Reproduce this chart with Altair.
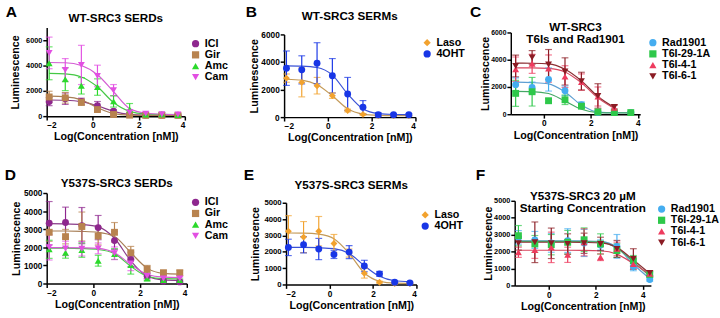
import altair as alt
import pandas as pd

FONT = "Liberation Sans"

# log10 concentrations (nM)
X9 = [-1.893, -1.194, -0.495, 0.204, 0.903, 1.602, 2.301, 3.0, 3.699]
X8 = [-1.194, -0.495, 0.204, 0.903, 1.602, 2.301, 3.0, 3.699]
X7 = [-1.194, -0.495, 0.204, 0.903, 1.602, 2.301, 3.0]
XF = [-1.291, -0.592, 0.107, 0.806, 1.505, 2.204, 2.903, 3.602, 4.301]

# ---- Panel A: WT-SRC3 SERDs
A_series = ["ICI", "Gir", "Amc", "Cam"]
A_ICI_y = [1150, 1380, 1170, 830, 390, 130, 80, 80, 80]
A_ICI_sd = [320, 450, 250, 330, 120, 60, 40, 40, 40]
A_ICI_fit = [1280, 1260, 1150, 820, 380, 140, 80, 70, 70]
A_Gir_y = [1520, 1450, 1100, 520, 130, 80, 60, 60, 60]
A_Gir_sd = [450, 420, 250, 150, 60, 40, 30, 30, 30]
A_Gir_fit = [1580, 1530, 1300, 680, 200, 80, 60, 60, 60]
A_Amc_y = [4180, 2920, 2400, 2300, 1170, 520, 130, 150, 100]
A_Amc_sd = [1300, 900, 650, 650, 450, 480, 100, 150, 80]
A_Amc_fit = [3380, 3340, 3100, 2320, 1080, 380, 170, 140, 130]
A_Cam_y = [5000, 3650, 4050, 3180, 2050, 300, 200, 150, 130]
A_Cam_sd = [1250, 900, 1550, 850, 450, 200, 150, 100, 80]
A_Cam_fit = [4240, 4220, 4000, 3270, 1930, 600, 230, 150, 130]

# ---- Panel B: WT-SRC3 SERMs
B_series = ["Laso", "4OHT"]
B_Laso_y = [2830, 2520, 2280, 1560, 480, 200, 110, 110, 110]
B_Laso_sd = [300, 1050, 600, 200, 100, 60, 40, 40, 40]
B_Laso_fit = [2750, 2680, 2350, 1550, 600, 220, 130, 110, 110]
B_OHT_y = [3550, 3430, 3910, 3000, 1680, 720, 170, 170, 170]
B_OHT_sd = [1250, 1020, 1490, 1250, 1200, 480, 150, 80, 80]
B_OHT_fit = [3720, 3700, 3600, 3050, 1680, 600, 250, 190, 180]

# ---- Panel C: WT-SRC3 T6Is and Rad1901
C_series = ["Rad1901", "T6I-29-1A", "T6I-4-1", "T6I-6-1"]
C_Rad_y = [2170, 1960, 2550, 1720, 700, 120, 120, 120]
C_Rad_sd = [500, 400, 850, 350, 200, 80, 60, 50]
C_Rad_fit = [2350, 2320, 2230, 1630, 670, 150, 110, 110]
C_29_y = [1530, 1650, 990, 1060, 590, 165, 120, 120]
C_29_sd = [950, 1050, 150, 350, 150, 80, 50, 50]
C_29_fit = [1680, 1660, 1520, 960, 360, 120, 100, 100]
C_4_y = [3300, 3700, 3350, 2760, 2360, 1300, 470]
C_4_sd = [900, 700, 1000, 800, 600, 700, 200]
C_4_fit = [3400, 3400, 3360, 3100, 2300, 1200, 420]
C_6_y = [3540, 4170, 3650, 3140, 2430, 1340, 540]
C_6_sd = [800, 500, 1100, 1000, 650, 900, 150]
C_6_fit = [3750, 3740, 3700, 3300, 2450, 1300, 500]

# ---- Panel D: Y537S-SRC3 SERDs
D_ICI_y = [3330, 3370, 3200, 3090, 2370, 1330, 410, 130, 90]
D_ICI_sd = [1200, 850, 1000, 670, 500, 400, 150, 60, 50]
D_ICI_fit = [3310, 3300, 3260, 3130, 2500, 1250, 400, 200, 170]
D_Gir_y = [2830, 2590, 3150, 2630, 2830, 1700, 800, 590, 590]
D_Gir_sd = [500, 400, 800, 500, 540, 350, 200, 150, 150]
D_Gir_fit = [2900, 2900, 2880, 2830, 2600, 1700, 850, 560, 520]
D_Amc_y = [1890, 1700, 1850, 1260, 1630, 1020, 280, 190, 190]
D_Amc_sd = [500, 300, 400, 300, 300, 500, 120, 60, 60]
D_Amc_fit = [1950, 1950, 1930, 1880, 1650, 950, 400, 270, 260]
D_Cam_y = [2000, 1940, 1920, 1940, 1670, 1110, 410, 280, 280]
D_Cam_sd = [700, 400, 400, 300, 350, 400, 150, 80, 80]
D_Cam_fit = [1980, 1980, 1970, 1940, 1700, 1050, 500, 350, 330]

# ---- Panel E: Y537S-SRC3 SERMs
E_Laso_y = [3260, 2900, 3260, 2510, 1920, 690, 140, 60, 60]
E_Laso_sd = [950, 950, 900, 550, 250, 300, 60, 40, 40]
E_Laso_fit = [3150, 3140, 3080, 2800, 1900, 700, 200, 80, 70]
E_OHT_y = [2270, 2430, 2170, 1840, 1980, 1130, 650, 140, 100]
E_OHT_sd = [500, 500, 650, 250, 400, 350, 150, 60, 50]
E_OHT_fit = [2270, 2270, 2250, 2190, 1900, 1150, 500, 230, 170]

# ---- Panel F: Y537S-SRC3 20 uM start
F_Rad_y = [2840, 2690, 2510, 2650, 2510, 2390, 2310, 1120, 350]
F_Rad_sd = [400, 500, 550, 700, 800, 300, 700, 250, 100]
F_Rad_fit = [2640, 2640, 2640, 2640, 2630, 2600, 2250, 1250, 400]
F_29_y = [2940, 2450, 2410, 2550, 2700, 2450, 2060, 1470, 650]
F_29_sd = [600, 500, 600, 700, 700, 600, 400, 300, 150]
F_29_fit = [2600, 2600, 2600, 2600, 2590, 2560, 2200, 1400, 550]
F_4_y = [1960, 2100, 2250, 1810, 2550, 1670, 2160, 1270, 690]
F_4_sd = [300, 500, 900, 450, 800, 200, 400, 300, 150]
F_4_fit = [2080, 2080, 2080, 2080, 2075, 2050, 1850, 1300, 650]
F_6_y = [2490, 2550, 2490, 2450, 2490, 2450, 2160, 1570, 730]
F_6_sd = [400, 1200, 900, 600, 600, 400, 500, 600, 150]
F_6_fit = [2550, 2550, 2550, 2550, 2540, 2520, 2250, 1500, 700]

SERD_COLORS = ["#8E278E", "#B8834F", "#2BD92B", "#E24FE2"]
SERD_LINES = ["#8A3C8A", "#A77E55", "#45C845", "#D45CD4"]
SERD_SHAPES = ["circle", "square", "triangle-up", "triangle-down"]
SERM_COLORS = ["#F2A22E", "#1836E6"]
SERM_LINES = ["#C49A58", "#3A52D6"]
SERM_SHAPES = ["diamond", "circle"]
T6_COLORS = ["#45ADF0", "#2EC84A", "#EE3B5E", "#8B1C24"]
T6_LINES = ["#5E9FD2", "#45A865", "#D8465F", "#8B2D32"]
T6_SHAPES = ["circle", "square", "triangle-up", "triangle-down"]


def panel(letter, title, series, colors, lcolors, shapes, xs_list, ys, sds, fits,
          xdom, xticks, ydom, yticks, w, h, yrange, letter_dx, letter_dy,
          title_dy, legend_dx, legend_y, ylab_size, ytitle_pad):
    rows, frows = [], []
    for s, xs, y, sd, f in zip(series, xs_list, ys, sds, fits):
        for xi, yi, si in zip(xs, y, sd):
            rows.append(dict(series=s, x=xi, y=yi, lo=max(yi - si, 0), hi=yi + si))
        for xi, fi in zip(xs, f):
            frows.append(dict(series=s, x=xi, fit=fi))
    df = pd.DataFrame(rows)
    fdf = pd.DataFrame(frows)
    legend = alt.Legend(
        title=None, orient="none", legendX=w + legend_dx, legendY=legend_y,
        labelFontSize=11, labelFontWeight="bold", labelFont=FONT,
        labelColor="black", symbolSize=55, rowPadding=-0.5, padding=0,
        labelOffset=4, symbolStrokeWidth=0, symbolOpacity=1)
    cscale = alt.Scale(domain=series, range=colors)
    lscale = alt.Scale(domain=series, range=lcolors)
    sscale = alt.Scale(domain=series, range=shapes)
    xscale = alt.Scale(domain=xdom, nice=False, zero=False)
    xaxis = alt.Axis(values=xticks, title="Log(Concentration [nM])", format="d",
                     labelOverlap=False)
    yscale = alt.Scale(domain=ydom, nice=False, range=yrange)
    yaxis = alt.Axis(values=yticks, title="Luminescence", format="d",
                     labelOverlap=False, labelFontSize=ylab_size, titlePadding=ytitle_pad)
    color = alt.Color("series:N", scale=cscale, legend=legend)
    lines = alt.Chart(fdf).mark_line(interpolate="monotone", strokeWidth=1.2).encode(
        x=alt.X("x:Q", scale=xscale, axis=xaxis),
        y=alt.Y("fit:Q", scale=yscale, axis=yaxis),
        stroke=alt.Stroke("series:N", scale=lscale, legend=None), detail="series:N")
    bars = alt.Chart(df).mark_errorbar(ticks=True, size=7, thickness=1.2).encode(
        x=alt.X("x:Q", scale=xscale, axis=xaxis),
        y=alt.Y("lo:Q", scale=yscale, axis=yaxis), y2="hi:Q",
        color=color)
    pts = alt.Chart(df).mark_point(filled=True, size=50, opacity=1).encode(
        x=alt.X("x:Q", scale=xscale, axis=xaxis),
        y=alt.Y("y:Q", scale=yscale, axis=yaxis),
        color=color,
        shape=alt.Shape("series:N", scale=sscale, legend=legend))
    let = alt.Chart(pd.DataFrame({"t": [letter]})).mark_text(
        font=FONT, fontSize=16, fontWeight="bold", align="left", baseline="middle",
        color="black").encode(text="t:N", x=alt.value(letter_dx), y=alt.value(letter_dy))
    ttl = alt.Chart(pd.DataFrame({"t": [title]})).mark_text(
        font=FONT, fontSize=12, fontWeight="bold", align="center", baseline="middle",
        lineBreak="\n", lineHeight=13, color="black").encode(
        text="t:N", x=alt.value(w / 2), y=alt.value(title_dy))
    return alt.layer(lines, bars, pts, let, ttl).resolve_scale(
        stroke="independent").properties(width=w, height=h)


pA = panel("A", "WT-SRC3 SERDs", A_series, SERD_COLORS, SERD_LINES, SERD_SHAPES,
           [X9] * 4, [A_ICI_y, A_Gir_y, A_Amc_y, A_Cam_y],
           [A_ICI_sd, A_Gir_sd, A_Amc_sd, A_Cam_sd],
           [A_ICI_fit, A_Gir_fit, A_Amc_fit, A_Cam_fit],
           [-2, 4], [-2, 0, 2, 4], [0, 7000], [0, 2000, 4000, 6000],
           142, 91, [91, 0], -42, -16, -10, 5.5, 11, 7.5, 5)
pB = panel("B", "WT-SRC3 SERMs", B_series, SERM_COLORS, SERM_LINES, SERM_SHAPES,
           [X9] * 2, [B_Laso_y, B_OHT_y], [B_Laso_sd, B_OHT_sd], [B_Laso_fit, B_OHT_fit],
           [-2, 4], [-2, 0, 2, 4], [0, 6000], [0, 2000, 4000, 6000],
           135, 92, [92, 7], -39.5, -16, -12, 6.5, 10, 8.5, 1)
pC = panel("C", "WT-SRC3\nT6Is and Rad1901", C_series, T6_COLORS, T6_LINES, T6_SHAPES,
           [X8, X8, X7, X7], [C_Rad_y, C_29_y, C_4_y, C_6_y],
           [C_Rad_sd, C_29_sd, C_4_sd, C_6_sd], [C_Rad_fit, C_29_fit, C_4_fit, C_6_fit],
           [-1.4, 4.1], [0, 2, 4], [0, 6000], [0, 2000, 4000, 6000],
           133, 89, [89, 5], -42, -16, -1, 7.5, 10, 7, 0)
pD = panel("D", "Y537S-SRC3 SERDs", A_series, SERD_COLORS, SERD_LINES, SERD_SHAPES,
           [X9] * 4, [D_ICI_y, D_Gir_y, D_Amc_y, D_Cam_y],
           [D_ICI_sd, D_Gir_sd, D_Amc_sd, D_Cam_sd],
           [D_ICI_fit, D_Gir_fit, D_Amc_fit, D_Cam_fit],
           [-2, 4], [-2, 0, 2, 4], [0, 5000], [0, 1000, 2000, 3000, 4000, 5000],
           144, 93, [93, 0], -43, -18, -10, 3.5, 4, 8.5, 2.5)
pE = panel("E", "Y537S-SRC3 SERMs", B_series, SERM_COLORS, SERM_LINES, SERM_SHAPES,
           [X9] * 2, [E_Laso_y, E_OHT_y], [E_Laso_sd, E_OHT_sd], [E_Laso_fit, E_OHT_fit],
           [-2, 4], [-2, 0, 2, 4], [0, 5000], [0, 1000, 2000, 3000, 4000, 5000],
           134, 94, [94, 10], -43.5, -18, -8, 3.5, 17, 8, 3.5)
pF = panel("F", "Y537S-SRC3 20 µM\nStarting Concentration", C_series, T6_COLORS, T6_LINES,
           T6_SHAPES,
           [XF] * 4, [F_Rad_y, F_29_y, F_4_y, F_6_y],
           [F_Rad_sd, F_29_sd, F_4_sd, F_6_sd], [F_Rad_fit, F_29_fit, F_4_fit, F_6_fit],
           [-1.45, 4.35], [0, 2, 4], [0, 5000], [0, 1000, 2000, 3000, 4000, 5000],
           140, 95, [95, 8], -40, -18, 3, 5.5, 11, 7.5, 0)

res = dict(color="independent", shape="independent")
ab = alt.hconcat(pA, pB, spacing=17).resolve_scale(**res).resolve_legend(**res)
row1 = alt.hconcat(ab, pC, spacing=4).resolve_scale(**res).resolve_legend(**res)
de = alt.hconcat(pD, pE, spacing=15).resolve_scale(**res).resolve_legend(**res)
row2 = alt.hconcat(de, pF, spacing=12).resolve_scale(**res).resolve_legend(**res)

chart = alt.vconcat(row1, row2, spacing=25).resolve_scale(**res).resolve_legend(
    **res).properties(
    padding={"left": 5, "top": 0, "right": 0, "bottom": 0},
    background="white"
).configure_view(stroke=None).configure_axis(
    labelFont=FONT, labelFontWeight="bold", labelFontSize=8.5, labelColor="black",
    titleFont=FONT, titleFontWeight="bold", titleFontSize=11, titleColor="black",
    domainColor="black", domainWidth=1.5, tickColor="black", tickWidth=1.5, tickSize=4,
    labelPadding=1, grid=False
).configure_axisX(titlePadding=2)

chart.save("out.html", embed_options={"renderer": "svg", "actions": False})
